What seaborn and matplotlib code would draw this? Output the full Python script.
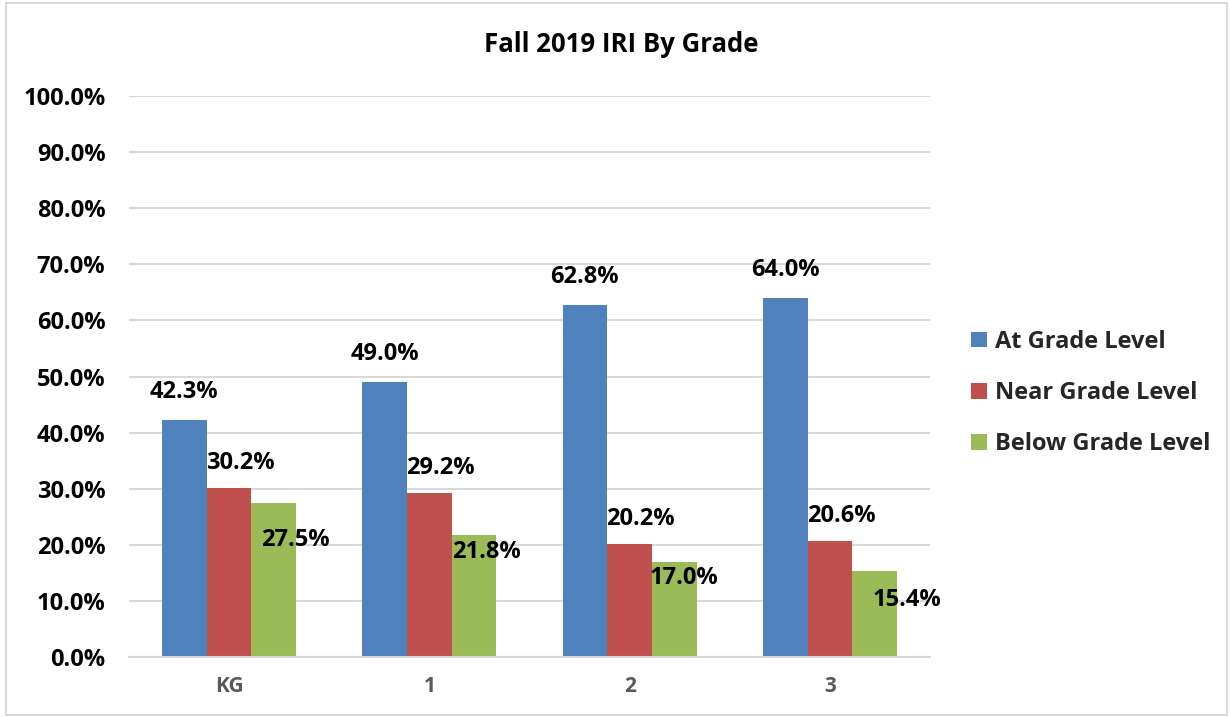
import matplotlib
matplotlib.use("Agg")
import matplotlib.pyplot as plt
import seaborn as sns
import pandas as pd
from matplotlib.patches import Rectangle
from matplotlib.ticker import FuncFormatter

grades = ["KG", "1", "2", "3"]
series = ["At Grade Level", "Near Grade Level", "Below Grade Level"]
at_grade = [42.3, 49.0, 62.8, 64.0]
near_grade = [30.2, 29.2, 20.2, 20.6]
below_grade = [27.5, 21.8, 17.0, 15.4]
colors = ["#4F81BD", "#C0504D", "#9BBB59"]

# label offsets in pixels (annotation layout only)
blue_off = [(0, 28)] * 4
red_off = [(11, 25)] * 4
green_off = [(22, -37), (12, -17), (10, -16), (32, -29)]

df = pd.DataFrame({
    "grade": grades * 3,
    "series": [series[0]] * 4 + [series[1]] * 4 + [series[2]] * 4,
    "value": at_grade + near_grade + below_grade,
})

sns.set_style("white")
FONT = ["Open Sans", "DejaVu Sans"]
plt.rcParams["font.family"] = FONT
plt.rcParams["font.weight"] = "bold"

fig = plt.figure(figsize=(12.3, 7.17), dpi=100)
ax = fig.add_axes([129 / 1230, 1 - 657 / 717, (930 - 129) / 1230, (657 - 96) / 717])

sns.barplot(data=df, x="grade", y="value", hue="series", order=grades,
            hue_order=series, palette=colors, width=0.67, gap=0,
            saturation=1, ax=ax, legend=False, errorbar=None,
            edgecolor="none", linewidth=0)

ax.set_ylim(0, 100)
ax.set_yticks(range(0, 101, 10))
ax.yaxis.set_major_formatter(FuncFormatter(lambda v, p: f"{v:.1f}%"))
ax.set_xlim(-0.5, 3.5)
ax.grid(axis="y", color="#D9D9D9", linewidth=1.5, zorder=0)
ax.set_axisbelow(True)
for s in ["top", "right", "left"]:
    ax.spines[s].set_visible(False)
ax.spines["bottom"].set_color("#D9D9D9")
ax.spines["bottom"].set_linewidth(1.5)
ax.tick_params(axis="both", length=0)
ax.tick_params(axis="y", labelsize=17, labelcolor="black", pad=17)
ax.tick_params(axis="x", labelsize=15, labelcolor="#595959", pad=14)
for t in ax.get_yticklabels() + ax.get_xticklabels():
    t.set_fontweight("bold")
ax.set_xlabel("")
ax.set_ylabel("")

offsets = [blue_off, red_off, green_off]
for ci, cont in enumerate(ax.containers):
    for bi, bar in enumerate(cont):
        h = bar.get_height()
        xc = bar.get_x() + bar.get_width() / 2
        dx, dy = offsets[ci][bi]
        ax.annotate(f"{h:.1f}%", (xc, h), xytext=(dx, dy),
                    textcoords="offset pixels", ha="center", va="center",
                    fontsize=17, fontweight="bold", color="black", zorder=5)

fig.text(621 / 1230, 1 - 45 / 717, "Fall 2019 IRI By Grade", ha="center",
         va="center", fontsize=18.5, fontweight="bold", color="black")

handles = [Rectangle((0, 0), 1, 1, facecolor=c, edgecolor="none") for c in colors]
leg = fig.legend(handles, series, loc="center left",
                 bbox_to_anchor=(950 / 1230, 1 - 393 / 717), frameon=False,
                 prop={"size": 17, "weight": "bold"}, handlelength=0.65,
                 handleheight=0.65, handletextpad=0.35, labelspacing=1.15)

fig.patches.append(Rectangle((6 / 1230, 2 / 717), 1221 / 1230, 712 / 717,
                             transform=fig.transFigure, fill=False,
                             edgecolor="#D9D9D9", linewidth=1.5))

fig.savefig("out.png", dpi=100, facecolor="white")
